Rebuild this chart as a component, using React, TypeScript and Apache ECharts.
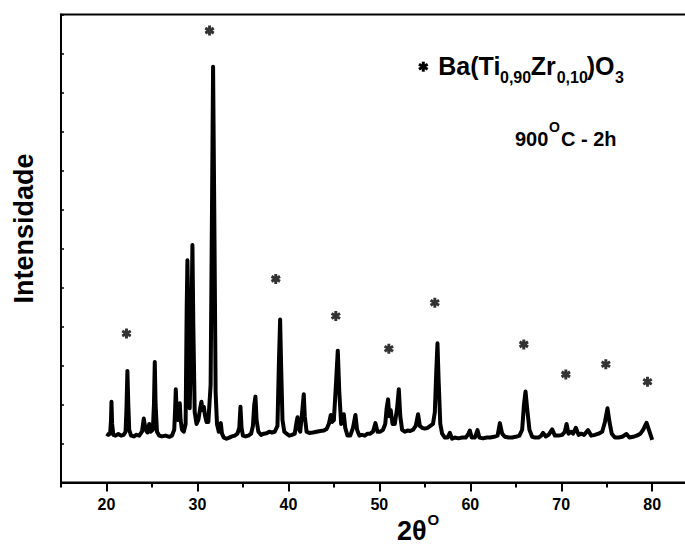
import React, { useEffect, useRef } from 'react';
import * as echarts from 'echarts';

const twoTheta = [
  20.0, 20.2, 20.4, 20.5, 20.55, 20.62, 20.75, 21.0, 21.3, 21.6, 21.9, 22.1, 22.2, 22.3, 22.4, 22.5, 22.7,
  23.0, 23.3, 23.6, 23.9, 24.1, 24.3, 24.5, 24.7, 24.85, 25.1, 25.22, 25.31, 25.4, 25.55, 25.8, 26.1, 26.5,
  26.9, 27.2, 27.45, 27.55, 27.62, 27.7, 27.85, 28.0, 28.06, 28.15, 28.3, 28.5, 28.7, 28.82, 28.9, 28.98,
  29.15, 29.32, 29.45, 29.55, 29.7, 29.9, 30.1, 30.3, 30.44, 30.55, 30.7, 30.85, 31.0, 31.2, 31.45, 31.6,
  31.72, 31.85, 32.0, 32.15, 32.35, 32.57, 32.7, 32.9, 33.2, 33.5, 33.8, 34.1, 34.4, 34.6, 34.73, 34.85,
  35.0, 35.3, 35.6, 35.9, 36.1, 36.25, 36.38, 36.5, 36.7, 37.0, 37.3, 37.6, 37.9, 38.2, 38.5, 38.8, 38.95,
  39.09, 39.2, 39.35, 39.55, 39.8, 40.1, 40.4, 40.7, 40.9, 41.0, 41.1, 41.3, 41.55, 41.69, 41.8, 42.0, 42.3,
  42.7, 43.1, 43.5, 43.9, 44.2, 44.45, 44.66, 44.8, 45.0, 45.2, 45.43, 45.6, 45.8, 46.09, 46.25, 46.5, 46.8,
  47.1, 47.37, 47.55, 47.8, 48.1, 48.4, 48.7, 49.0, 49.3, 49.57, 49.8, 50.1, 50.4, 50.65, 50.8, 50.96, 51.1,
  51.25, 51.45, 51.7, 51.95, 52.14, 52.3, 52.5, 52.8, 53.1, 53.4, 53.7, 54.0, 54.26, 54.45, 54.7, 55.0, 55.3,
  55.6, 55.9, 56.1, 56.25, 56.39, 56.52, 56.7, 56.9, 57.2, 57.5, 57.75, 58.0, 58.3, 58.7, 59.1, 59.5, 59.8,
  59.95, 60.15, 60.5, 60.79, 61.0, 61.4, 61.8, 62.2, 62.6, 63.0, 63.25, 63.5, 63.8, 64.2, 64.6, 65.0, 65.4,
  65.7, 65.9, 66.07, 66.25, 66.5, 66.8, 67.1, 67.5, 67.8, 68.0, 68.3, 68.6, 69.0, 69.3, 69.7, 70.1, 70.4,
  70.58, 70.8, 71.1, 71.3, 71.6, 71.9, 72.2, 72.5, 72.95, 73.3, 73.7, 74.1, 74.5, 74.8, 75.08, 75.3, 75.55,
  75.9, 76.3, 76.7, 77.17, 77.5, 77.9, 78.3, 78.7, 79.0, 79.37, 79.7, 80.0,
];
const intensity = [
  1.25, 1.22, 1.25, 1.6, 2.07, 1.5, 1.22, 1.2, 1.24, 1.2, 1.22, 1.3, 1.9, 2.86, 2.0, 1.35, 1.2,
  1.18, 1.22, 1.2, 1.3, 1.64, 1.35, 1.28, 1.5, 1.3, 1.35, 2.0, 3.09, 2.0, 1.3, 1.2, 1.18, 1.2,
  1.17, 1.2, 1.35, 1.9, 2.39, 1.9, 1.6, 1.9, 2.03, 1.6, 1.35, 1.3, 1.5, 4.5, 5.7, 4.5,
  1.9, 3.8, 6.09, 4.0, 1.8, 1.5, 1.6, 1.9, 2.07, 1.85, 1.94, 1.7, 1.55, 1.55, 2.5, 7.0,
  10.66, 7.0, 2.3, 1.5, 1.3, 1.52, 1.25, 1.15, 1.12, 1.15, 1.18, 1.2, 1.25, 1.4, 1.94, 1.4,
  1.2, 1.18, 1.2, 1.25, 1.45, 2.0, 2.2, 1.6, 1.3, 1.22, 1.25, 1.26, 1.3, 1.28, 1.3, 1.45, 3.0,
  4.18, 3.0, 1.6, 1.3, 1.25, 1.2, 1.22, 1.25, 1.55, 1.67, 1.4, 1.3, 1.9, 2.26, 1.7, 1.3, 1.27,
  1.28, 1.3, 1.32, 1.33, 1.37, 1.5, 1.73, 1.55, 1.6, 2.4, 3.38, 2.3, 1.5, 1.75, 1.4, 1.2, 1.2,
  1.4, 1.73, 1.35, 1.2, 1.22, 1.2, 1.25, 1.25, 1.3, 1.52, 1.3, 1.3, 1.35, 1.5, 1.9, 2.13, 1.7,
  1.85, 1.5, 1.5, 1.9, 2.39, 1.7, 1.35, 1.3, 1.33, 1.32, 1.35, 1.45, 1.75, 1.45, 1.4, 1.38, 1.4,
  1.45, 1.5, 1.8, 2.8, 3.57, 2.6, 1.5, 1.25, 1.15, 1.15, 1.27, 1.12, 1.15, 1.13, 1.15, 1.15, 1.25,
  1.33, 1.15, 1.15, 1.34, 1.15, 1.13, 1.15, 1.15, 1.17, 1.2, 1.52, 1.25, 1.17, 1.15, 1.15, 1.17, 1.2,
  1.35, 2.0, 2.33, 1.9, 1.35, 1.17, 1.15, 1.15, 1.2, 1.27, 1.18, 1.22, 1.36, 1.2, 1.2, 1.22, 1.3,
  1.5, 1.25, 1.3, 1.25, 1.4, 1.22, 1.25, 1.22, 1.34, 1.2, 1.22, 1.25, 1.3, 1.55, 1.9, 1.55, 1.25,
  1.15, 1.15, 1.17, 1.24, 1.15, 1.17, 1.2, 1.25, 1.35, 1.53, 1.3, 1.09,
];

// Ba(Ti0,90Zr0,10)O3 reflection markers (asterisks)
const markTheta = [22.2, 31.33, 38.61, 45.21, 51.04, 56.1, 65.88, 70.5, 74.9, 79.48];
const markHeight = [3.82, 11.59, 5.22, 4.27, 3.43, 4.61, 3.54, 2.77, 3.03, 2.58];

const xTickLabels = [20, 30, 40, 50, 60, 70, 80];

const FONT = '"Liberation Sans", Arial, sans-serif';
const ASTERISK =
  'path://M-0.3,-1L0.3,-1L0.3,1L-0.3,1Z' +
  'M0.716,-0.76L1.016,-0.24L-0.716,0.76L-1.016,0.24Z' +
  'M-1.016,-0.24L-0.716,-0.76L1.016,0.24L0.716,0.76Z';

const GRID = { left: 61, top: 14.6, width: 636.7, height: 467.8, outerBoundsMode: 'none', containLabel: false };

function asteriskGraphic(cx: number, cy: number, r: number) {
  const bar = (angle: number) => ({
    type: 'rect',
    x: cx,
    y: cy,
    rotation: angle,
    shape: { x: -r * 0.3, y: -r, width: r * 0.6, height: 2 * r },
    style: { fill: '#000' },
  });
  return [bar(0), bar(Math.PI / 3), bar(-Math.PI / 3)];
}

function txt(text: string, x: number, baseline: number, size: number, extra: any = {}) {
  return {
    type: 'text',
    x,
    y: baseline - size * 0.35,
    style: {
      text,
      fontFamily: FONT,
      fontWeight: 'bold',
      fontSize: size,
      fill: '#000',
      align: 'left',
      verticalAlign: 'middle',
    },
    ...extra,
  };
}

export default function App() {
  const ref = useRef<HTMLDivElement>(null);
  useEffect(() => {
    if (!ref.current) return;
    const chart = echarts.init(ref.current, undefined, { renderer: 'svg' });
    const lineData = twoTheta.map((t, i) => [t, intensity[i]]);
    const markData = markTheta.map((t, i) => [t, markHeight[i]]);
    chart.setOption({
      animation: false,
      backgroundColor: '#fff',
      grid: [
        { ...GRID, show: true, borderColor: '#000', borderWidth: 2 },
        { ...GRID, show: false },
      ],
      xAxis: [
        {
          type: 'value',
          gridIndex: 0,
          min: 15,
          max: 85,
          interval: 5,
          position: 'bottom',
          axisLine: { lineStyle: { color: '#000', width: 2 } },
          axisTick: { inside: false, length: 5, lineStyle: { color: '#000', width: 2 } },
          axisLabel: { show: false },
          splitLine: { show: false },
        },
        {
          type: 'value',
          gridIndex: 1,
          min: 15,
          max: 85,
          interval: 5,
          position: 'bottom',
          axisLine: { show: false },
          axisTick: { customValues: xTickLabels, length: 9, lineStyle: { color: '#000', width: 2 } },
          axisLabel: {
            customValues: xTickLabels,
            margin: 14,
            fontSize: 16,
            fontWeight: 'bold',
            fontFamily: FONT,
            color: '#000',
          },
          splitLine: { show: false },
        },
      ],
      yAxis: [
        {
          type: 'value',
          gridIndex: 0,
          min: 0,
          max: 12,
          interval: 1,
          axisLine: { show: true, lineStyle: { color: '#000', width: 2 } },
          axisTick: { show: true, inside: true, length: 3, lineStyle: { color: '#000', width: 1.5 } },
          axisLabel: { show: false },
          splitLine: { show: false },
        },
        {
          type: 'value',
          gridIndex: 1,
          min: 0,
          max: 12,
          show: false,
        },
      ],
      series: [
        {
          type: 'line',
          name: '900°C - 2h',
          xAxisIndex: 0,
          yAxisIndex: 0,
          data: lineData,
          showSymbol: false,
          lineStyle: { color: '#000', width: 4, join: 'round' },
        },
        {
          type: 'scatter',
          name: 'Ba(Ti0,90Zr0,10)O3',
          xAxisIndex: 0,
          yAxisIndex: 0,
          data: markData,
          symbol: ASTERISK,
          symbolSize: [10, 10],
          itemStyle: { color: '#000' },
        },
      ],
      graphic: [
        ...asteriskGraphic(423.3, 66.7, 5),
        txt('Ba(Ti', 438.3, 74.3, 25),
        txt('0,90', 500, 83.3, 16),
        txt('Zr', 530.7, 74.3, 25),
        txt('0,10', 556.7, 83.3, 16),
        txt(')O', 586.7, 74.3, 25),
        txt('3', 615, 83.3, 16),
        txt('900', 515, 146, 20),
        txt('O', 549, 132, 14),
        txt('C - 2h', 561, 146, 20),
        txt('2θ', 397, 540, 27),
        txt('O', 427.5, 525, 15),
        {
          type: 'text',
          x: 24,
          y: 228.5,
          rotation: Math.PI / 2,
          style: {
            text: 'Intensidade',
            fontFamily: FONT,
            fontWeight: 'bold',
            fontSize: 27,
            fill: '#000',
            align: 'center',
            verticalAlign: 'middle',
          },
        },
      ],
    });
    return () => chart.dispose();
  }, []);
  return (
    <div
      ref={ref}
      style={{ position: 'fixed', left: 0, top: 0, width: 685, height: 545, background: '#fff' }}
    />
  );
}
